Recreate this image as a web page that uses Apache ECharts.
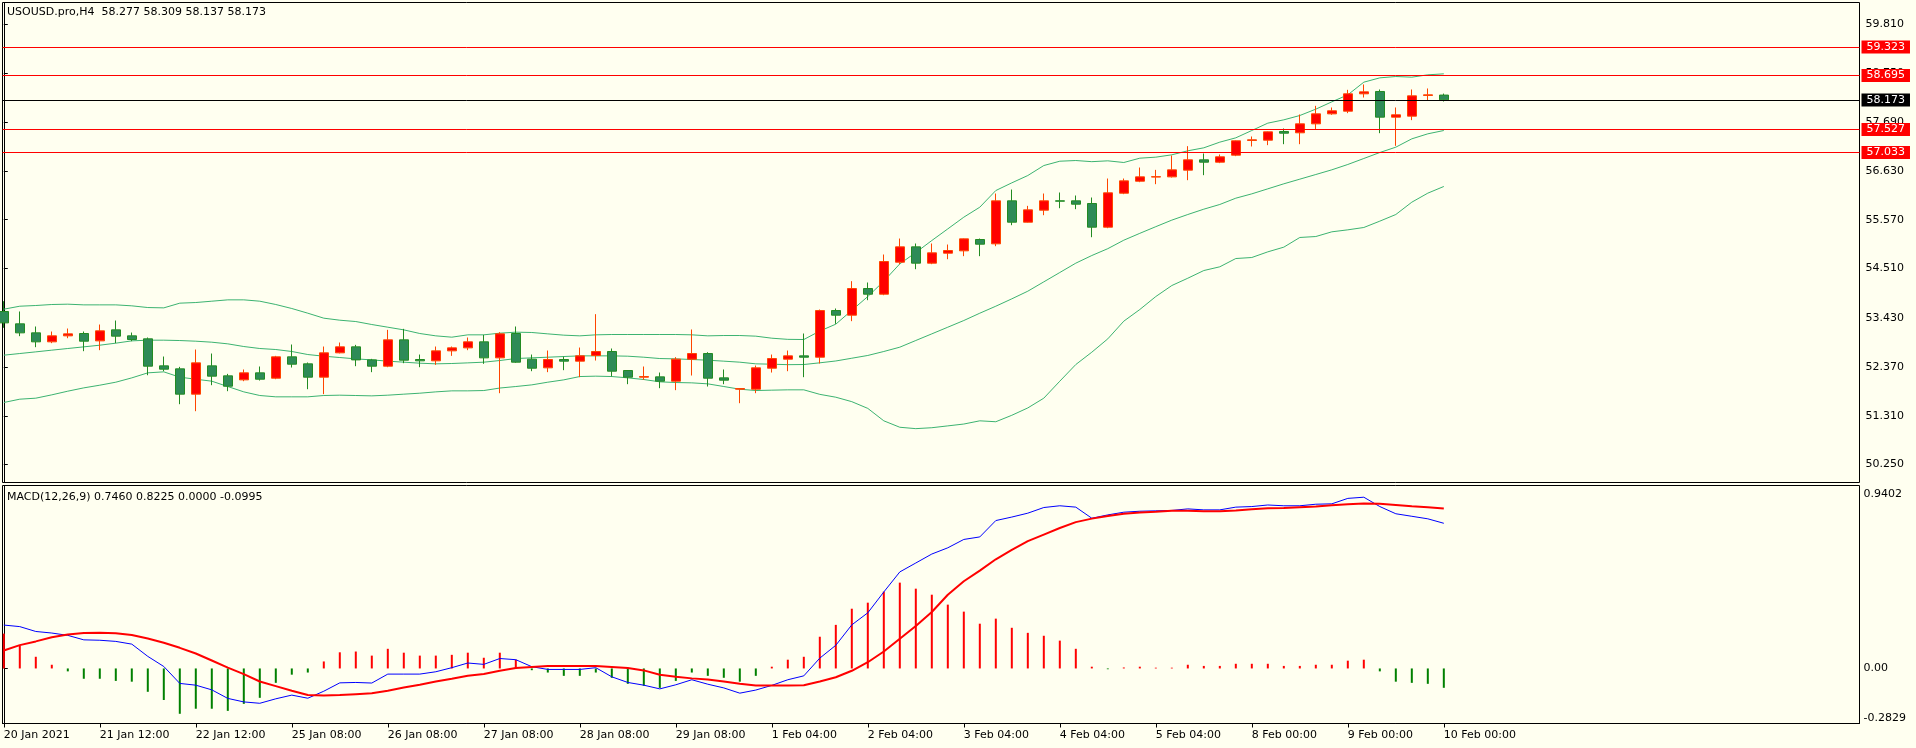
<!DOCTYPE html>
<html><head><meta charset="utf-8">
<script src="https://cdn.jsdelivr.net/npm/echarts@6/dist/echarts.min.js"></script>
<style>html,body{margin:0;padding:0;background:#FFFFF0;}#c{width:1916px;height:748px;}</style>
</head><body><div id="c"></div>
<script>
// ---------- data ----------
const symbolName = 'USOUSD.pro,H4';
const tickLabels = ['20 Jan 2021','21 Jan 12:00','22 Jan 12:00','25 Jan 08:00','26 Jan 08:00','27 Jan 08:00','28 Jan 08:00','29 Jan 08:00','1 Feb 04:00','2 Feb 04:00','3 Feb 04:00','4 Feb 04:00','5 Feb 04:00','8 Feb 00:00','9 Feb 00:00','10 Feb 00:00'];
const barsPerTick = 6;

const opens = [
53.575,53.307,53.111,52.916,53.046,53.097,52.937,53.176,53.046,52.981,
52.394,52.329,51.779,52.394,52.177,52.090,52.242,52.126,52.590,52.438,
52.148,52.677,52.807,52.524,52.387,52.959,52.532,52.503,52.720,52.785,
52.916,52.568,53.097,52.539,52.351,52.532,52.496,52.619,52.706,52.293,
52.148,52.155,52.061,52.539,52.662,52.133,51.887,51.887,52.343,52.539,
52.611,52.582,53.596,53.495,54.074,53.951,54.646,54.979,54.625,54.842,
54.893,55.139,55.045,55.979,55.515,55.776,55.979,55.979,55.921,55.407,
56.145,56.406,56.495,56.500,56.646,56.870,56.819,56.971,57.290,57.297,
57.486,57.457,57.652,57.869,57.927,58.304,58.355,57.797,57.819,58.268,
58.277];
const highs = [
53.799,53.575,53.249,53.140,53.205,53.140,53.292,53.379,53.118,53.010,
52.597,52.372,52.749,52.662,52.220,52.315,52.380,52.611,52.858,52.467,
52.814,52.901,52.850,52.546,53.176,53.198,52.640,52.814,52.814,53.010,
53.068,53.126,53.249,52.640,52.727,52.597,52.792,53.517,52.771,52.300,
52.380,52.249,52.583,53.184,52.691,52.315,51.905,52.401,52.640,52.727,
53.097,53.618,53.640,54.234,54.205,54.813,55.160,55.052,55.052,55.030,
55.160,55.160,56.138,56.225,55.870,56.138,56.160,56.095,56.051,56.464,
56.464,56.703,56.652,56.964,57.167,57.008,56.986,57.290,57.377,57.485,
57.551,57.855,58.043,58.007,58.391,58.507,58.398,58.007,58.398,58.420,
58.309];
const lows = [
53.220,53.039,52.800,52.887,52.995,52.713,52.735,52.887,52.930,52.191,
52.278,51.561,51.409,51.974,51.844,52.061,52.075,52.104,52.358,51.887,
51.779,52.665,52.387,52.257,52.365,52.452,52.365,52.416,52.611,52.735,
52.438,51.800,52.460,52.278,52.257,52.300,52.148,52.510,52.162,51.996,
52.090,51.909,51.866,52.184,51.945,51.996,51.583,51.800,52.249,52.278,
52.148,52.445,53.307,53.365,53.821,53.929,54.603,54.494,54.603,54.711,
54.777,54.777,54.994,55.450,55.508,55.667,55.819,55.798,55.189,55.385,
56.124,56.384,56.341,56.486,56.428,56.537,56.798,56.950,57.160,57.189,
57.210,57.210,57.522,57.848,57.884,58.224,57.449,57.174,57.732,58.166,
58.137];
const closes = [
53.328,53.111,52.916,53.046,53.089,52.930,53.155,53.039,52.966,52.387,
52.322,51.779,52.459,52.170,51.952,52.242,52.104,52.590,52.430,52.148,
52.677,52.807,52.524,52.387,52.959,52.517,52.503,52.720,52.785,52.916,
52.568,53.089,52.474,52.343,52.532,52.496,52.611,52.706,52.278,52.148,
52.162,52.061,52.539,52.662,52.126,52.083,51.902,52.351,52.553,52.611,
52.582,53.596,53.495,54.074,53.951,54.661,54.979,54.625,54.849,54.900,
55.153,55.037,55.979,55.515,55.783,55.979,55.972,55.906,55.407,56.153,
56.413,56.500,56.505,56.652,56.870,56.819,56.935,57.283,57.305,57.478,
57.449,57.652,57.869,57.935,58.304,58.347,57.797,57.848,58.260,58.282,
58.173];

const bbUpper = [
53.625,53.690,53.705,53.727,53.734,53.719,53.719,53.719,53.698,53.661,
53.654,53.756,53.770,53.799,53.828,53.828,53.799,53.727,53.640,53.538,
53.430,53.386,53.357,53.292,53.234,53.176,53.097,53.046,53.017,53.068,
53.068,53.104,53.126,53.119,53.089,53.061,53.046,53.068,53.075,53.075,
53.075,53.075,53.075,53.068,53.046,53.053,53.053,53.039,52.995,52.970,
52.966,53.150,53.300,53.600,53.900,54.234,54.610,54.856,55.117,55.370,
55.624,55.841,56.203,56.370,56.529,56.746,56.840,56.855,56.830,56.848,
56.812,56.906,56.928,56.979,57.066,57.131,57.254,57.348,57.507,57.667,
57.739,57.833,57.971,58.130,58.282,58.557,58.651,58.680,58.666,58.717,
58.738];
const bbMiddle = [
52.626,52.662,52.698,52.735,52.771,52.807,52.843,52.887,52.937,52.952,
52.952,52.944,52.930,52.908,52.872,52.814,52.771,52.749,52.706,52.640,
52.604,52.575,52.546,52.524,52.496,52.474,52.452,52.438,52.445,52.459,
52.474,52.510,52.553,52.568,52.582,52.597,52.611,52.611,52.611,52.604,
52.582,52.553,52.546,52.532,52.517,52.496,52.474,52.438,52.430,52.420,
52.423,52.460,52.500,52.560,52.620,52.706,52.800,52.945,53.089,53.234,
53.379,53.538,53.690,53.850,54.016,54.219,54.422,54.625,54.791,54.940,
55.124,55.273,55.418,55.560,55.682,55.798,55.900,56.037,56.131,56.240,
56.349,56.450,56.551,56.653,56.769,56.899,57.029,57.145,57.326,57.435,
57.507];
const bbLower = [
51.598,51.670,51.692,51.764,51.844,51.916,51.974,52.039,52.133,52.242,
52.264,52.148,52.104,52.061,51.945,51.829,51.750,51.721,51.721,51.721,
51.750,51.757,51.750,51.742,51.757,51.779,51.800,51.829,51.851,51.851,
51.858,51.912,51.945,51.981,52.039,52.090,52.162,52.170,52.162,52.133,
52.097,52.047,52.032,52.025,52.003,51.945,51.887,51.858,51.866,51.873,
51.873,51.775,51.713,51.616,51.470,51.200,51.060,51.030,51.050,51.090,
51.130,51.200,51.180,51.320,51.480,51.692,52.061,52.423,52.691,52.981,
53.365,53.618,53.900,54.139,54.298,54.465,54.546,54.726,54.748,54.871,
54.973,55.183,55.204,55.306,55.349,55.400,55.538,55.682,55.950,56.146,
56.291];

const macdMain = [
0.223,0.215,0.190,0.182,0.170,0.147,0.145,0.139,0.125,0.062,
0.010,-0.077,-0.086,-0.110,-0.154,-0.172,-0.179,-0.156,-0.137,-0.153,
-0.117,-0.074,-0.072,-0.075,-0.029,-0.029,-0.029,-0.017,0.004,0.028,
0.021,0.051,0.045,0.009,-0.005,-0.005,-0.005,0.004,-0.043,-0.072,
-0.086,-0.105,-0.084,-0.058,-0.081,-0.100,-0.127,-0.111,-0.087,-0.058,
-0.038,0.053,0.119,0.224,0.286,0.393,0.496,0.542,0.588,0.620,
0.663,0.676,0.760,0.778,0.798,0.827,0.836,0.829,0.772,0.789,
0.803,0.808,0.810,0.812,0.820,0.815,0.815,0.829,0.832,0.840,
0.836,0.836,0.844,0.846,0.874,0.880,0.832,0.795,0.782,0.769,
0.746];
const macdSignal = [
0.092,0.120,0.139,0.160,0.175,0.182,0.183,0.181,0.172,0.154,
0.132,0.106,0.077,0.041,0.004,-0.029,-0.067,-0.091,-0.115,-0.136,
-0.139,-0.136,-0.132,-0.128,-0.115,-0.098,-0.084,-0.067,-0.053,-0.038,
-0.028,-0.012,0.002,0.007,0.012,0.013,0.013,0.012,0.007,0.002,
-0.010,-0.032,-0.043,-0.051,-0.057,-0.067,-0.079,-0.087,-0.087,-0.087,
-0.086,-0.067,-0.045,-0.012,0.032,0.087,0.153,0.218,0.290,0.379,
0.448,0.503,0.561,0.609,0.654,0.688,0.722,0.752,0.770,0.784,
0.795,0.801,0.805,0.810,0.810,0.808,0.808,0.812,0.818,0.823,
0.825,0.829,0.832,0.839,0.844,0.848,0.846,0.840,0.834,0.829,
0.8225];
const macdHist = [
0.179,0.117,0.060,0.019,-0.015,-0.053,-0.053,-0.064,-0.068,-0.120,
-0.162,-0.233,-0.207,-0.207,-0.218,-0.182,-0.151,-0.074,-0.032,-0.021,
0.036,0.083,0.087,0.066,0.101,0.081,0.066,0.066,0.070,0.081,
0.055,0.081,0.045,-0.009,-0.021,-0.038,-0.038,-0.021,-0.048,-0.079,
-0.089,-0.100,-0.064,-0.021,-0.038,-0.048,-0.068,-0.038,0.009,0.045,
0.060,0.163,0.224,0.307,0.338,0.395,0.441,0.410,0.379,0.328,
0.292,0.230,0.256,0.209,0.183,0.168,0.143,0.101,0.009,-0.004,
0.005,0.009,0.004,0.004,0.019,0.013,0.013,0.024,0.024,0.024,
0.013,0.013,0.019,0.019,0.040,0.045,-0.015,-0.068,-0.074,-0.079,
-0.0995];
const macdLegendValues = [0.7460, 0.8225, 0.0000, -0.0995];

const levelLines = [59.323, 58.695, 57.527, 57.033];
const priceTicks = [50.25, 51.31, 52.37, 53.43, 54.51, 55.57, 56.63, 57.69, 58.75, 59.81];
const macdTicks = [0.9402, 0, -0.2829];

// ---------- chart ----------
const FONT = 'DejaVu Sans';
const last = closes.length - 1;
const tickIdx = tickLabels.map((_, k) => k * barsPerTick);
const candleData = opens.map((o, i) => [i, o, closes[i], lows[i], highs[i]]);
const pair = arr => arr.map((v, i) => [i, v]);

const X_MIN = -0.081, X_MAX = 115.98;
const P_MIN = 49.860, P_MAX = 60.288;
const M_MIN = macdTicks[2], M_MAX = macdTicks[0];

const titleText = symbolName + '  ' + [opens[last], highs[last], lows[last], closes[last]].map(v => v.toFixed(3)).join(' ');
const macdText = 'MACD(12,26,9) ' + macdLegendValues.map(v => v.toFixed(4)).join(' ');

function levelItem(v, bg) {
  return {
    yAxis: v,
    lineStyle: { color: bg, width: 1, type: 'solid' },
    label: {
      show: true, position: 'end', distance: 2,
      formatter: v.toFixed(3),
      color: '#FFFFFF', backgroundColor: bg,
      fontFamily: FONT, fontSize: 11, lineHeight: 12,
      padding: [1, 5, 0, 5]
    }
  };
}

const chart = echarts.init(document.getElementById('c'), null, { renderer: 'canvas' });
chart.setOption({
  animation: false,
  backgroundColor: '#FFFFF0',
  textStyle: { fontFamily: FONT },
  title: [
    { text: titleText, left: 7, top: 6, padding: 0,
      textStyle: { fontFamily: FONT, fontSize: 11, fontWeight: 'normal', color: '#000', lineHeight: 13 } },
    { text: macdText, left: 7, top: 491, padding: 0,
      textStyle: { fontFamily: FONT, fontSize: 11, fontWeight: 'normal', color: '#000', lineHeight: 13 } }
  ],
  grid: [
    { left: 2.5, right: 56.5, top: 2.5, height: 480, show: true, borderColor: '#000', borderWidth: 1, backgroundColor: 'transparent' },
    { left: 2.5, right: 56.5, top: 485.5, height: 238, show: true, borderColor: '#000', borderWidth: 1, backgroundColor: 'transparent' }
  ],
  xAxis: [
    { type: 'value', gridIndex: 0, min: X_MIN, max: X_MAX, show: false, splitLine: { show: false } },
    { type: 'value', gridIndex: 1, min: X_MIN, max: X_MAX,
      axisLine: { show: true, onZero: false, lineStyle: { color: '#000' } },
      axisTick: { show: true, length: 4, customValues: tickIdx, lineStyle: { color: '#000' } },
      axisLabel: { show: true, customValues: tickIdx, align: 'left', margin: 6,
        formatter: v => tickLabels[Math.round(v / barsPerTick)] || '',
        color: '#000', fontFamily: FONT, fontSize: 11 },
      splitLine: { show: false } }
  ],
  yAxis: [
    { type: 'value', gridIndex: 0, position: 'right', min: P_MIN, max: P_MAX,
      axisLine: { show: true, lineStyle: { color: '#000' } },
      axisTick: { show: true, length: 4, customValues: priceTicks, lineStyle: { color: '#000' } },
      axisLabel: { show: true, customValues: priceTicks, margin: 6,
        formatter: v => v.toFixed(3), color: '#000', fontFamily: FONT, fontSize: 11 },
      splitLine: { show: false } },
    { type: 'value', gridIndex: 1, position: 'right', min: M_MIN, max: M_MAX,
      axisLine: { show: true, lineStyle: { color: '#000' } },
      axisTick: { show: true, length: 4, customValues: macdTicks, lineStyle: { color: '#000' } },
      axisLabel: { show: true, customValues: macdTicks, margin: 4,
        formatter: v => {
          const s = v === 0 ? '0.00' : v.toFixed(4);
          if (v === M_MAX) return '{top|' + s + '}';
          if (v === M_MIN) return '{bot|' + s + '}';
          return s;
        },
        rich: { top: { padding: [18, 0, 0, 0], fontSize: 11, fontFamily: FONT, color: '#000' },
                bot: { padding: [0, 0, 10, 0], fontSize: 11, fontFamily: FONT, color: '#000' } },
        color: '#000', fontFamily: FONT, fontSize: 11 },
      splitLine: { show: false } }
  ],
  series: [
    { type: 'line', xAxisIndex: 0, yAxisIndex: 0, data: pair(bbUpper), showSymbol: false, symbol: 'none',
      lineStyle: { color: '#3CB371', width: 1 }, z: 3 },
    { type: 'line', xAxisIndex: 0, yAxisIndex: 0, data: pair(bbMiddle), showSymbol: false, symbol: 'none',
      lineStyle: { color: '#3CB371', width: 1 }, z: 3 },
    { type: 'line', xAxisIndex: 0, yAxisIndex: 0, data: pair(bbLower), showSymbol: false, symbol: 'none',
      lineStyle: { color: '#3CB371', width: 1 }, z: 3 },
    { type: 'candlestick', xAxisIndex: 0, yAxisIndex: 0, data: candleData, barWidth: 10, z: 4,
      itemStyle: { color: '#FF0000', color0: '#2E8B57', borderColor: '#FF4500', borderColor0: '#228B22', borderWidth: 1 },
      markLine: {
        symbol: ['none', 'none'], silent: true, animation: false,
        data: levelLines.map(v => levelItem(v, '#FF0000')).concat([levelItem(closes[last], '#000000')])
      } },
    { type: 'bar', xAxisIndex: 1, yAxisIndex: 1, data: pair(macdHist), barWidth: 2,
      itemStyle: { color: p => (p.value[1] >= 0 ? '#FF0000' : '#008000') }, z: 2 },
    { type: 'line', xAxisIndex: 1, yAxisIndex: 1, data: pair(macdMain), showSymbol: false, symbol: 'none',
      lineStyle: { color: '#0000FF', width: 1 }, z: 3 },
    { type: 'line', xAxisIndex: 1, yAxisIndex: 1, data: pair(macdSignal), showSymbol: false, symbol: 'none',
      lineStyle: { color: '#FF0000', width: 2 }, z: 4 }
  ]
});
</script></body></html>
